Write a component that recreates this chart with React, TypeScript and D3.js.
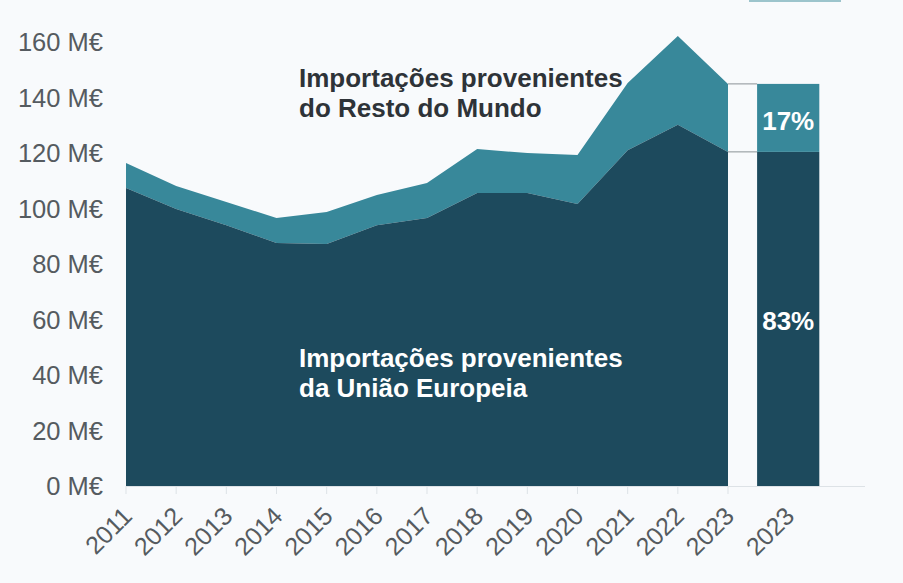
import React, { useEffect, useRef } from 'react';
import * as d3 from 'd3';

// values in M€
const years = [2011, 2012, 2013, 2014, 2015, 2016, 2017, 2018, 2019, 2020, 2021, 2022, 2023];
const euImports = [107.4, 99.8, 94.0, 87.6, 87.2, 94.0, 96.6, 105.6, 105.6, 101.6, 121.0, 130.2, 120.4];
const totalImports = [116.4, 108.1, 102.3, 96.6, 98.7, 104.9, 109.2, 121.4, 120.0, 119.3, 145.2, 162.2, 144.9];
const yTicks = [0, 20, 40, 60, 80, 100, 120, 140, 160];
const barLabel = '2023';
const barShares = ['83%', '17%'];

const W = 903;
const H = 583;
const DARK = '#1d4a5d';
const TEAL = '#38889a';

const App: React.FC = () => {
  const svgRef = useRef<SVGSVGElement>(null);

  useEffect(() => {
    if (!svgRef.current) return;
    const svg = d3.select(svgRef.current);
    svg.selectAll('*').remove();

    const x = d3.scaleLinear().domain([2011, 2023]).range([126, 728]);
    const y = d3.scaleLinear().domain([0, 160]).range([486, 42]);

    svg.append('rect').attr('width', W).attr('height', H).attr('fill', '#f8fafc');

    // legend remnant at top right
    svg.append('rect').attr('x', 749).attr('y', 0).attr('width', 92).attr('height', 2).attr('fill', '#9cc4cc');

    const rows = years.map((yr, i) => ({ yr, eu: euImports[i], total: totalImports[i] }));

    const areaTotal = d3.area<typeof rows[0]>()
      .x(d => x(d.yr))
      .y0(d => y(d.eu))
      .y1(d => y(d.total));
    const areaEu = d3.area<typeof rows[0]>()
      .x(d => x(d.yr))
      .y0(y(0))
      .y1(d => y(d.eu));

    svg.append('path').datum(rows).attr('d', areaTotal).attr('fill', TEAL);
    svg.append('path').datum(rows).attr('d', areaEu).attr('fill', DARK);

    // 2023 stacked bar
    const last = rows[rows.length - 1];
    const barX0 = x(2023.58);
    const barX1 = x(2024.82);
    const barC = (barX0 + barX1) / 2;
    svg.append('rect')
      .attr('x', barX0).attr('width', barX1 - barX0)
      .attr('y', y(last.eu)).attr('height', y(0) - y(last.eu))
      .attr('fill', DARK);
    svg.append('rect')
      .attr('x', barX0).attr('width', barX1 - barX0)
      .attr('y', y(last.total)).attr('height', y(last.eu) - y(last.total))
      .attr('fill', TEAL);

    // connector lines
    [last.total, last.eu].forEach(v => {
      svg.append('line')
        .attr('x1', x(2023)).attr('x2', barX0)
        .attr('y1', y(v)).attr('y2', y(v))
        .attr('stroke', '#8a9296').attr('stroke-width', 1);
    });

    // x axis line + ticks
    svg.append('line')
      .attr('x1', x(2011)).attr('x2', 865)
      .attr('y1', y(0) + 0.5).attr('y2', y(0) + 0.5)
      .attr('stroke', '#dde2e6').attr('stroke-width', 1);
    years.forEach(yr => {
      svg.append('line')
        .attr('x1', x(yr)).attr('x2', x(yr))
        .attr('y1', y(0)).attr('y2', y(0) + 8)
        .attr('stroke', '#dde2e6').attr('stroke-width', 1);
    });

    const font = 'Liberation Sans, Arial, sans-serif';

    // x labels rotated
    const xLabels = years.map(yr => ({ t: String(yr), cx: x(yr) }))
      .concat([{ t: barLabel, cx: barC }]);
    xLabels.forEach(d => {
      svg.append('text')
        .attr('transform', `translate(${d.cx + 3},${y(0) + 27}) rotate(-45)`)
        .attr('text-anchor', 'end')
        .attr('dominant-baseline', 'middle')
        .attr('font-family', font)
        .attr('font-size', 25)
        .attr('fill', '#555b60')
        .text(d.t);
    });

    // y labels
    yTicks.forEach(t => {
      svg.append('text')
        .attr('x', 103)
        .attr('y', y(t))
        .attr('text-anchor', 'end')
        .attr('dominant-baseline', 'central')
        .attr('font-family', font)
        .attr('font-size', 25.5)
        .attr('fill', '#555b60')
        .text(`${t} M€`);
    });

    // annotations
    const annot = (lines: string[], x0: number, y0: number, color: string) => {
      const tx = svg.append('text')
        .attr('font-family', font)
        .attr('font-weight', 'bold')
        .attr('font-size', 26)
        .attr('fill', color);
      lines.forEach((l, i) => {
        tx.append('tspan').attr('x', x0).attr('y', y0 + i * 29.5).text(l);
      });
    };
    annot(['Importações provenientes', 'do Resto do Mundo'], 299, 87, '#2e3338');
    annot(['Importações provenientes', 'da União Europeia'], 299, 367, '#ffffff');

    // shares on the bar
    svg.append('text')
      .attr('x', barC).attr('y', 330)
      .attr('text-anchor', 'middle')
      .attr('font-family', font).attr('font-weight', 'bold').attr('font-size', 26)
      .attr('fill', '#ffffff')
      .text(barShares[0]);
    svg.append('text')
      .attr('x', barC).attr('y', 130)
      .attr('text-anchor', 'middle')
      .attr('font-family', font).attr('font-weight', 'bold').attr('font-size', 26)
      .attr('fill', '#ffffff')
      .text(barShares[1]);
  }, []);

  return (
    <svg
      ref={svgRef}
      width={W}
      height={H}
      style={{ position: 'absolute', left: 0, top: 0, display: 'block' }}
    />
  );
};

export default App;
